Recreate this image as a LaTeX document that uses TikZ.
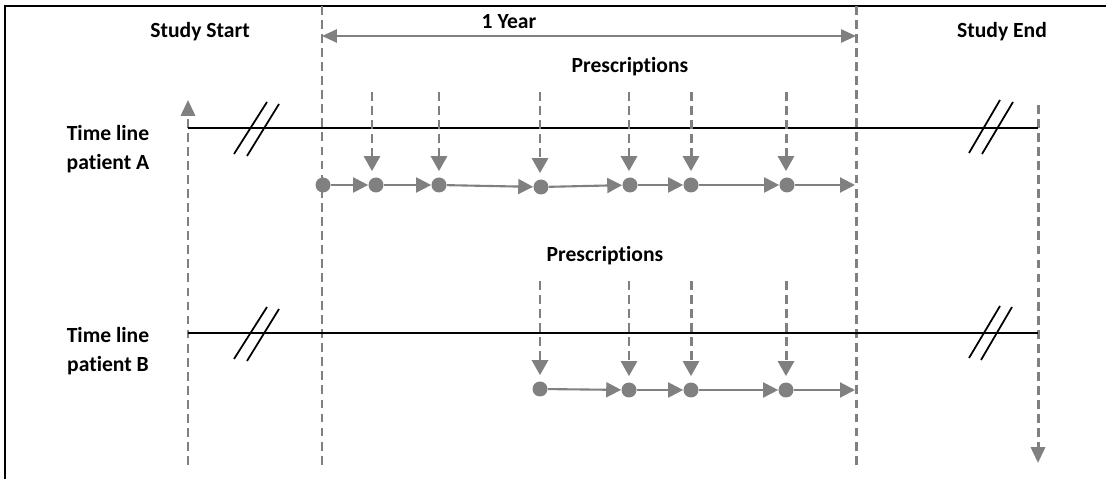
\documentclass[tikz,border=0pt]{standalone}
\usepackage{fontspec}
\setmainfont{Carlito}[RawFeature=-liga]
\usetikzlibrary{arrows.meta}
\definecolor{rxgray}{RGB}{128,128,128}
\begin{document}
\begin{tikzpicture}
[
x=0.02cm, y=-0.02cm,
lbl/.style={font=\fontsize{12.3}{16.3}\selectfont\bfseries, inner sep=0},
dot/.style={circle, fill=rxgray, inner sep=0, minimum size=0.3cm},
flow/.style={draw=rxgray, line width=1.2pt, -{Triangle[length=8.5pt,width=8.5pt]}},
rxarrow/.style={draw=rxgray, line width=1.7pt, dash pattern=on 5pt off 3pt, -{Triangle[length=8.5pt,width=9pt]}, shorten >=3.4pt},
bound/.style={draw=rxgray, line width=1.7pt, dash pattern=on 5pt off 3pt},
timeline/.style={draw=black, line width=1.2pt},
hash/.style={draw=black, line width=1pt}
]
\useasboundingbox (0,0) rectangle (1106,479);
%Frame
\coordinate (fl) at (5,479);
\coordinate (fc) at (5,6);
\coordinate (fr) at (1106,6);
\draw[black, line width=1.3pt] (fl) -- (fc) -- (fr);
%Labels
\node[lbl, anchor=base]	(start) at(200,38) {Study Start};
\node[lbl, anchor=base]	(end) at(1002,38) {Study End};
\node[lbl, anchor=base]	(year) at(509,29) {1 Year};
\node[lbl, anchor=base]	(presA) at(630,73) {Prescriptions};
\node[lbl, anchor=base]	(presB) at(605,262) {Prescriptions};
\node[lbl, align=center]	(patA) at(108,149) {Time line\\patient A};
\node[lbl, align=center]	(patB) at(108,351) {Time line\\patient B};
%Bounds
\coordinate (y0t) at(322,6);
\coordinate (y0b) at(322,465);
\coordinate (y1t) at(856,6);
\coordinate (y1b) at(856,465);
\coordinate (sst) at(188,100);
\coordinate (ssb) at(188,465);
\coordinate (set) at(1038,105);
\coordinate (seb) at(1038,463);
\draw[bound] (y0t) -- (y0b);
\draw[bound] (y1t) -- (y1b);
\draw[bound, -{Triangle[length=9pt,width=8pt]}] (ssb) -- (sst);
\draw[bound, -{Triangle[length=9pt,width=8pt]}] (set) -- (seb);
\coordinate (yl) at(322,36);
\coordinate (yr) at(856,36);
\draw[draw=rxgray, line width=1.2pt, {Triangle[length=8.5pt,width=7.5pt]}-{Triangle[length=8.5pt,width=7.5pt]}] (yl) -- (yr);
%Time lines
\coordinate (tas) at(188,128);
\coordinate (tae) at(1038,128);
\coordinate (tbs) at(188,333);
\coordinate (tbe) at(1038,333);
\draw[timeline] (tas) -- (tae);
\draw[timeline] (tbs) -- (tbe);
\draw[hash] (234,154) -- (267,102);
\draw[hash] (247,156) -- (279,104);
\draw[hash] (969,153) -- (1000,100);
\draw[hash] (982,154) -- (1013,102);
\draw[hash] (234,359) -- (267,307);
\draw[hash] (247,361) -- (279,309);
\draw[hash] (969,358) -- (1000,306);
\draw[hash] (981,360) -- (1012,307);
%Patient A
\node[dot] at(323,185)	(a0) {};
\node[dot] at(376,185)	(a1) {};
\node[dot] at(439,185)	(a2) {};
\node[dot] at(541,187)	(a3) {};
\node[dot] at(630,185)	(a4) {};
\node[dot] at(691,185)	(a5) {};
\node[dot] at(787,185)	(a6) {};
\coordinate (ae) at(855,185);
\draw[flow] (a0) -- (a1);
\draw[flow] (a1) -- (a2);
\draw[flow] (a2) -- (a3);
\draw[flow] (a3) -- (a4);
\draw[flow] (a4) -- (a5);
\draw[flow] (a5) -- (a6);
\draw[flow] (a6) -- (ae);
\coordinate (pa1) at(372,92);
\coordinate (pa2) at(439,92);
\coordinate (pa3) at(540,92);
\coordinate (pa4) at(629,92);
\coordinate (pa5) at(691,92);
\coordinate (pa6) at(786,92);
\draw[rxarrow] (pa1) -- (pa1 |- a1.north);
\draw[rxarrow] (pa2) -- (pa2 |- a2.north);
\draw[rxarrow] (pa3) -- (pa3 |- a3.north);
\draw[rxarrow] (pa4) -- (pa4 |- a4.north);
\draw[rxarrow] (pa5) -- (pa5 |- a5.north);
\draw[rxarrow] (pa6) -- (pa6 |- a6.north);
%Patient B
\node[dot] at(540,389)	(b0) {};
\node[dot] at(629,390)	(b1) {};
\node[dot] at(691,390)	(b2) {};
\node[dot] at(786,390)	(b3) {};
\coordinate (be) at(855,390);
\draw[flow] (b0) -- (b1);
\draw[flow] (b1) -- (b2);
\draw[flow] (b2) -- (b3);
\draw[flow] (b3) -- (be);
\coordinate (pb0) at(540,281);
\coordinate (pb1) at(629,281);
\coordinate (pb2) at(691,281);
\coordinate (pb3) at(786,281);
\draw[rxarrow] (pb0) -- (pb0 |- b0.north);
\draw[rxarrow] (pb1) -- (pb1 |- b1.north);
\draw[rxarrow] (pb2) -- (pb2 |- b2.north);
\draw[rxarrow] (pb3) -- (pb3 |- b3.north);
\end{tikzpicture}
\end{document}
